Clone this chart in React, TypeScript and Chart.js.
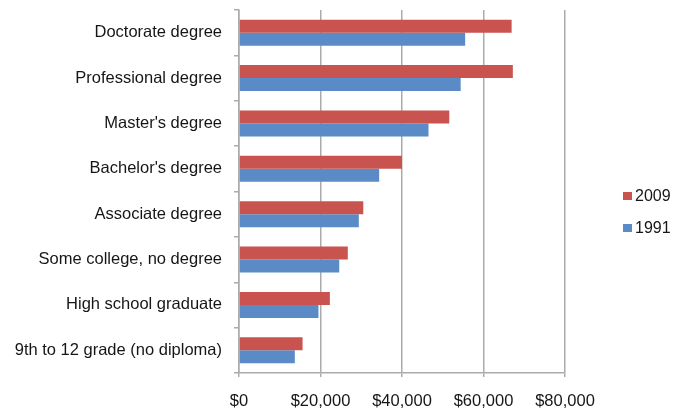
import React, { useEffect, useRef } from "react";
import { Chart, registerables } from "chart.js";

Chart.register(...registerables);

const categories = [
  "Doctorate degree",
  "Professional degree",
  "Master's degree",
  "Bachelor's degree",
  "Associate degree",
  "Some college, no degree",
  "High school graduate",
  "9th to 12 grade (no diploma)",
];

const series2009 = [66900, 67200, 51600, 40000, 30500, 26700, 22300, 15600];
const series1991 = [55500, 54400, 46500, 34400, 29400, 24600, 19500, 13700];

const seriesLabels = ["2009", "1991"];
const seriesColors = ["#C9534F", "#5A8BC7"];

const xMin = 0;
const xMax = 80000;
const xStep = 20000;

const FONT = "'Liberation Sans', Arial, Helvetica, sans-serif";
const TEXT = "#161616";
const GRID = "#ababab";

const legendPlugin = {
  id: "sideLegend",
  afterDraw(chart: any) {
    const ctx = chart.ctx;
    const area = chart.chartArea;
    const ds = chart.data.datasets;
    ctx.save();
    ctx.font = `16px ${FONT}`;
    ctx.textBaseline = "middle";
    ctx.textAlign = "left";
    const x0 = area.right + 58;
    const yStart = 196;
    const step = 32;
    ds.forEach((d: any, i: number) => {
      const y = yStart + i * step;
      ctx.fillStyle = d.backgroundColor;
      ctx.fillRect(x0, y - 4, 9, 8);
      ctx.fillStyle = TEXT;
      ctx.fillText(d.label, x0 + 12, y + 1);
    });
    ctx.restore();
  },
};

export default function App() {
  const ref = useRef<HTMLCanvasElement | null>(null);

  useEffect(() => {
    if (!ref.current) return;
    const chart = new Chart(ref.current, {
      type: "bar",
      data: {
        labels: categories,
        datasets: [
          {
            label: seriesLabels[0],
            data: series2009,
            backgroundColor: seriesColors[0],
            barPercentage: 1,
            categoryPercentage: 0.575,
          },
          {
            label: seriesLabels[1],
            data: series1991,
            backgroundColor: seriesColors[1],
            barPercentage: 1,
            categoryPercentage: 0.575,
          },
        ],
      },
      options: {
        indexAxis: "y",
        animation: false,
        responsive: true,
        maintainAspectRatio: false,
        layout: { padding: { top: 10, right: 119, bottom: 0, left: 0 } },
        plugins: {
          legend: { display: false },
          tooltip: { enabled: false },
        },
        scales: {
          x: {
            min: xMin,
            max: xMax,
            afterFit: (scale: any) => {
              scale.height = 39;
            },
            ticks: {
              stepSize: xStep,
              padding: 15,
              color: TEXT,
              font: { family: FONT, size: 16.5 },
              callback: (v: any) => "$" + Number(v).toLocaleString("en-US"),
            },
            grid: {
              color: GRID,
              lineWidth: 1.5,
              tickLength: 4,
              drawTicks: true,
            },
            border: { display: true, color: GRID, width: 1.5 },
          },
          y: {
            afterFit: (scale: any) => {
              scale.width = 239;
              scale.paddingTop = 0;
              scale.paddingBottom = 0;
            },
            ticks: {
              padding: 12,
              color: TEXT,
              font: { family: FONT, size: 16.5 },
            },
            grid: {
              offset: true,
              drawOnChartArea: false,
              color: GRID,
              lineWidth: 1.5,
              tickLength: 5,
            },
            border: { display: true, color: GRID, width: 1.5 },
          },
        },
      },
      plugins: [legendPlugin],
    });
    return () => chart.destroy();
  }, []);

  return (
    <div style={{ position: "absolute", left: 0, top: 0, width: 684, height: 412, background: "#fff" }}>
      <canvas ref={ref} />
    </div>
  );
}
